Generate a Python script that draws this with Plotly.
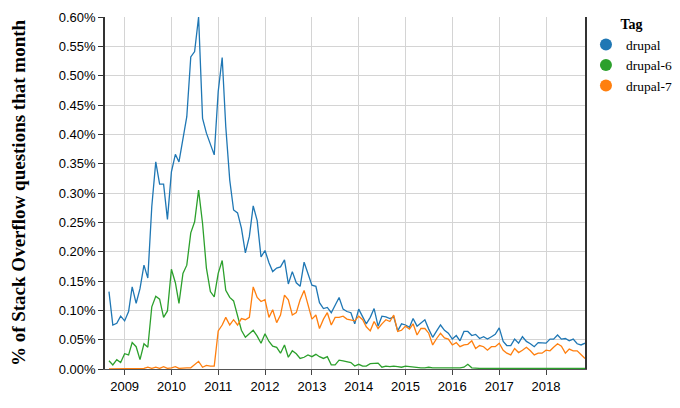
import pandas as pd
import plotly.graph_objects as go

# monthly share of Stack Overflow questions (%), Sep 2008 .. Nov 2018
months = pd.date_range("2008-09-01", "2018-11-01", freq="MS")

drupal = [
    0.132, 0.075, 0.078, 0.090, 0.082, 0.098, 0.140, 0.112, 0.137, 0.177, 0.155, 0.277,
    0.353, 0.315, 0.315, 0.255, 0.336, 0.366, 0.353, 0.390, 0.430, 0.532, 0.541, 0.600,
    0.427, 0.402, 0.382, 0.365, 0.473, 0.531, 0.413, 0.322, 0.271, 0.266, 0.240, 0.198,
    0.226, 0.278, 0.253, 0.191, 0.202, 0.181, 0.166, 0.172, 0.174, 0.186, 0.145, 0.166,
    0.147, 0.141, 0.182, 0.163, 0.143, 0.141, 0.113, 0.103, 0.105, 0.096, 0.109, 0.122,
    0.102, 0.098, 0.096, 0.077, 0.102, 0.090, 0.077, 0.088, 0.103, 0.073, 0.090, 0.089,
    0.086, 0.089, 0.065, 0.077, 0.075, 0.071, 0.086, 0.073, 0.078, 0.084, 0.068, 0.054,
    0.065, 0.075, 0.066, 0.061, 0.051, 0.057, 0.048, 0.064, 0.064, 0.057, 0.059, 0.052,
    0.055, 0.051, 0.055, 0.059, 0.070, 0.047, 0.040, 0.040, 0.051, 0.044, 0.055, 0.047,
    0.043, 0.038, 0.045, 0.045, 0.044, 0.051, 0.051, 0.058, 0.051, 0.052, 0.048, 0.051,
    0.043, 0.041, 0.044,
]
drupal_6 = [
    0.014, 0.007, 0.016, 0.011, 0.026, 0.024, 0.045, 0.038, 0.016, 0.043, 0.037, 0.106,
    0.124, 0.119, 0.088, 0.099, 0.170, 0.147, 0.112, 0.163, 0.177, 0.232, 0.251, 0.305,
    0.248, 0.172, 0.132, 0.123, 0.163, 0.185, 0.134, 0.122, 0.116, 0.090, 0.066, 0.054,
    0.060, 0.066, 0.056, 0.044, 0.060, 0.047, 0.039, 0.037, 0.027, 0.041,
    0.020, 0.031, 0.026, 0.018, 0.020, 0.024, 0.021, 0.025, 0.021, 0.018, 0.021, 0.007,
    0.007, 0.015, 0.014, 0.013, 0.011, 0.005, 0.008, 0.005, 0.005, 0.009, 0.010, 0.010,
    0.003, 0.005,
    0.004, 0.005, 0.004, 0.003, 0.005, 0.004, 0.003, 0.003, 0.002, 0.002, 0.003, 0.002,
    0.002, 0.001, 0.002, 0.001, 0.001, 0.002, 0.002, 0.003, 0.008, 0.002, 0.001, 0.001,
    0.001, 0.001, 0.001, 0.001, 0.002, 0.001, 0.001, 0.001, 0.001, 0.001, 0.001, 0.001,
    0.001, 0.002, 0.001, 0.001, 0.001, 0.001, 0.001, 0.001, 0.001, 0.001, 0.001, 0.001,
    0.001, 0.001, 0.001,
]
drupal_7 = [
    0.000, 0.000, 0.000, 0.000, 0.000, 0.000, 0.000, 0.000, 0.000, 0.001, 0.003, 0.001,
    0.003, 0.001, 0.004, 0.001, 0.002, 0.004, 0.001, 0.002, 0.002, 0.002, 0.008, 0.013,
    0.003, 0.006, 0.005, 0.005, 0.065, 0.075, 0.088, 0.075, 0.084, 0.075, 0.086, 0.084,
    0.088, 0.140, 0.122, 0.115, 0.118, 0.088, 0.101, 0.079, 0.092, 0.126, 0.118, 0.092,
    0.096, 0.118, 0.134, 0.112, 0.085, 0.092, 0.069, 0.085, 0.096, 0.075, 0.088, 0.088,
    0.090, 0.085, 0.084, 0.082, 0.090, 0.084, 0.072, 0.065, 0.081, 0.069, 0.077,
    0.084, 0.081, 0.092, 0.064, 0.066, 0.073, 0.068, 0.077, 0.058, 0.069, 0.069, 0.061,
    0.041, 0.052,
    0.061, 0.053, 0.051, 0.041, 0.045, 0.038, 0.041, 0.042, 0.048, 0.035, 0.040, 0.038,
    0.032, 0.038, 0.038, 0.044, 0.032, 0.027, 0.024, 0.035,
    0.028, 0.032, 0.037, 0.031, 0.024, 0.027, 0.027, 0.032, 0.031, 0.037, 0.043, 0.039,
    0.027, 0.034, 0.031, 0.031, 0.024, 0.018,
]

tags = ["drupal", "drupal-6", "drupal-7"]
colors = ["#1f77b4", "#2ca02c", "#ff7f0e"]
year_ticks = [f"{y}-01-01" for y in range(2009, 2019)]
y_ticks = [round(0.05 * k, 2) for k in range(13)]
y_labels = [f"{v:.2f}%" for v in y_ticks]

SANS = "Liberation Sans, Arial, sans-serif"
SERIF = "Liberation Serif, Times New Roman, serif"

fig = go.Figure()
for name, vals, col in zip(tags, [drupal, drupal_6, drupal_7], colors):
    fig.add_trace(go.Scatter(x=months, y=vals, mode="lines", name=name,
                             line=dict(color=col, width=1.3), showlegend=False))
# legend entries drawn as filled circles, like the original
for name, col in zip(tags, colors):
    fig.add_trace(go.Scatter(x=[None], y=[None], mode="markers", name=name,
                             marker=dict(color=col, size=11)))

# the page body adds an 8px margin all round, so keep the figure inside the window
fig.update_layout(
    width=664, height=392,
    margin=dict(l=97, r=87, t=9, b=31, autoexpand=False),
    paper_bgcolor="white", plot_bgcolor="white",
    font=dict(family=SANS, size=13, color="#000"),
    legend=dict(x=1.002, xanchor="left", y=1.017, yanchor="top",
                bgcolor="rgba(0,0,0,0)",
                title=dict(text="<b>Tag</b>", side="top center",
                           font=dict(family=SERIF, size=14)),
                font=dict(family=SERIF, size=13.5), tracegroupgap=0,
                itemsizing="constant", itemwidth=30),
)
fig.update_xaxes(
    type="date", range=["2008-08-01", "2018-11-01"],
    tickvals=year_ticks, tickformat="%Y", automargin=False,
    showgrid=True, gridcolor="#d4d4d4", gridwidth=1,
    showline=True, linecolor="#555", linewidth=1,
    ticks="outside", ticklen=5, tickcolor="#444",
    tickfont=dict(family=SANS, size=13), zeroline=False,
)
fig.update_yaxes(
    range=[0, 0.6], tickvals=y_ticks, ticktext=y_labels, automargin=False,
    showgrid=True, gridcolor="#d4d4d4", gridwidth=1,
    showline=True, mirror=True, linecolor="#333", linewidth=1.5,
    ticks="outside", ticklen=5, tickcolor="#333",
    tickfont=dict(family=SANS, size=13), zeroline=False,
    title=dict(text="<b>% of Stack Overflow questions that month</b>",
               font=dict(family=SERIF, size=19), standoff=30),
)

fig.write_html("out.html")
